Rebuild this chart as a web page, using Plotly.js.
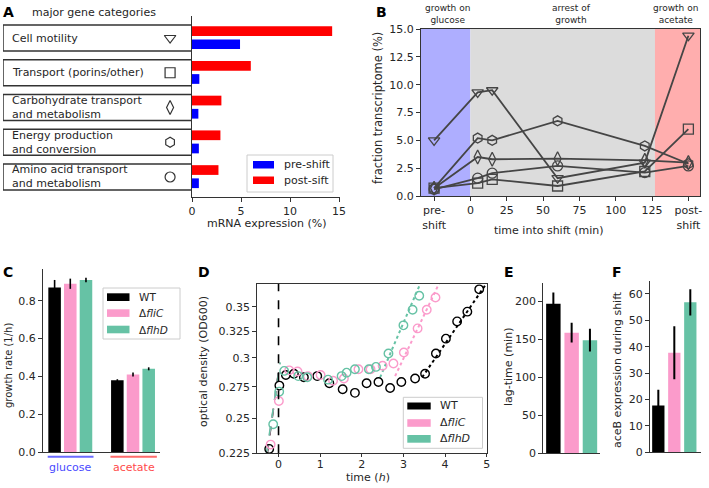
<!DOCTYPE html>
<html><head><meta charset="utf-8">
<script src="https://cdn.plot.ly/plotly-3.0.1.min.js"></script>
<style>html,body{margin:0;padding:0;background:#fff;}#chart{width:709px;height:488px;}</style>
</head><body><div id="chart"></div>
<script>
// ---------------- Panel A data ----------------
const categoriesA = ["Cell motility", "Transport (porins/other)", "Carbohydrate transport\nand metabolism", "Energy production\nand conversion", "Amino acid transport\nand metabolism"];
const symbolsA = ["triangle-down-open", "square-open", "diamond-tall-open", "hexagon-open", "circle-open"];
const preShiftA = [4.9, 0.75, 0.65, 0.7, 0.7];
const postShiftA = [14.3, 6.0, 3.0, 2.9, 2.7];
const legendNamesA = ["pre-shift", "post-sift"];
const xTicksA = [0, 5, 10, 15];

// ---------------- Panel B data ----------------
const headerTextsB = ["growth on\nglucose", "arrest of\ngrowth", "growth on\nacetate"];
const timeTicksB = [-25, 0, 25, 50, 75, 100, 125, 150];
const timeLabelsB = ["pre-\nshift", "0", "25", "50", "75", "100", "125", "post-\nshift"];
const timesB = [-25, 5, 15, 60, 120, 150];
const motilityB = [5.0, 9.3, 9.5, 1.6, 3.0, 14.4];
const transportB = [0.7, 1.15, 1.5, 0.9, 2.2, 6.0];
const carbohydrateB = [0.7, 3.5, 3.3, 3.35, 3.2, 3.0];
const energyB = [0.7, 5.2, 5.0, 6.75, 4.5, 2.9];
const aminoB = [0.6, 1.6, 2.05, 2.7, 2.1, 2.7];
const yTicksB = [0, 2.5, 5, 7.5, 10, 12.5, 15];

// ---------------- Panel C data ----------------
const strains = ["WT", "Δ<i>fliC</i>", "Δ<i>flhD</i>"];
const conditionsC = ["glucose", "acetate"];
const growthWT = [0.87, 0.38];
const growthWTErr = [0.04, 0.005];
const growthFliC = [0.89, 0.41];
const growthFliCErr = [0.027, 0.01];
const growthFlhD = [0.91, 0.44];
const growthFlhDErr = [0.012, 0.008];
const yTicksC = [0, 0.2, 0.4, 0.6, 0.8];

// ---------------- Panel D data ----------------
const timeWT = [-0.224, 0.02, 0.176, 0.369, 0.609, 0.93, 1.22, 1.54, 1.835, 2.115, 2.40, 2.68, 2.95, 3.28, 3.52, 3.78, 4.02, 4.29, 4.535, 4.82];
const odWT = [0.228, 0.276, 0.285, 0.286, 0.283, 0.284, 0.278, 0.273, 0.270, 0.278, 0.279, 0.274, 0.279, 0.282, 0.286, 0.304, 0.318, 0.335, 0.345, 0.369];
const timeFliC = [-0.19, 0.008, 0.256, 0.457, 0.705, 1.01, 1.31, 1.57, 1.92, 2.21, 2.50, 2.76, 3.01, 3.34, 3.56, 3.77];
const odFliC = [0.231, 0.2635, 0.289, 0.288, 0.284, 0.285, 0.280, 0.282, 0.290, 0.290, 0.293, 0.295, 0.305, 0.328, 0.347, 0.360];
const timeFlhD = [-0.128, 0.016, 0.136, 0.473, 0.69, 1.19, 1.515, 1.635, 1.835, 2.17, 2.34, 2.64, 3.0, 3.22, 3.38];
const odFlhD = [0.2456, 0.271, 0.2885, 0.284, 0.283, 0.281, 0.284, 0.287, 0.290, 0.290, 0.292, 0.304, 0.331, 0.347, 0.362];
// exponential fits (glucose phase, dashed) and (acetate phase, dotted)
const glcFitTimeWT = [-0.27, 0.02], glcFitOdWT = [0.225, 0.293];
const glcFitTimeFliC = [-0.28, 0.03], glcFitOdFliC = [0.225, 0.295];
const glcFitTimeFlhD = [-0.29, 0.04], glcFitOdFlhD = [0.225, 0.296];
const acFitTimeWT = [3.45, 5.0], acFitOdWT = [0.283, 0.376];
const acFitTimeFliC = [2.80, 3.86], acFitOdFliC = [0.284, 0.376];
const acFitTimeFlhD = [2.44, 3.41], acFitOdFlhD = [0.283, 0.376];
const xTicksD = [0, 1, 2, 3, 4, 5];
const yTicksD = [0.225, 0.25, 0.275, 0.3, 0.325, 0.35];
const yTickTextD = ["0.225", "0.25", "0.275", "0.3", "0.325", "0.35"];

// ---------------- Panel E / F data ----------------
const lagTime = [197, 159, 149];
const lagTimeErr = [15, 13, 15];
const yTicksE = [0, 50, 100, 150, 200];
const aceB = [17.7, 37.7, 56.8];
const aceBErr = [6, 10, 5];
const yTicksF = [0, 10, 20, 30, 40, 50, 60];

// ---------------- styling ----------------
const W = 709, H = 488;
const FONT = "DejaVu Sans, sans-serif";
const TXT = "#262626";
const strainColors = ["#000000", "#fb9bcb", "#66c2a5"];
const px = v => v / W;
const py = v => 1 - v / H;
const br = s => s.replace(/\n/g, "<br>");

const axBase = {
  showgrid: false, zeroline: false, showline: true, linecolor: "#333", linewidth: 1,
  ticks: "outside", ticklen: 4, tickwidth: 1, tickcolor: "#333",
  tickfont: { family: FONT, size: 11, color: TXT }, fixedrange: true
};
const ax = o => Object.assign({}, axBase, o);

function ann(text, x, y, o = {}) {
  const a = {
    text, x: px(x), y: py(y), xref: "paper", yref: "paper", showarrow: false,
    xanchor: "center", yanchor: "middle",
    font: { family: FONT, size: o.size || 11, color: o.color || TXT }
  };
  delete o.size; delete o.color;
  return Object.assign(a, o);
}
function prect(x0, y0, x1, y1, o = {}) {
  return Object.assign({ type: "rect", xref: "paper", yref: "paper", x0: px(x0), x1: px(x1), y0: py(y1), y1: py(y0) }, o);
}

const traces = [];
const shapes = [];
const annotations = [];

// ---------- Panel A ----------
const idxA = categoriesA.map((_, i) => i);
traces.push({ type: "bar", orientation: "h", x: postShiftA, y: idxA, xaxis: "x", yaxis: "y",
  marker: { color: "#ff0000" }, width: 0.28, offset: -0.34, name: legendNamesA[1], showlegend: false, hoverinfo: "skip" });
traces.push({ type: "bar", orientation: "h", x: preShiftA, y: idxA, xaxis: "x", yaxis: "y",
  marker: { color: "#0000ff" }, width: 0.28, offset: 0.04, name: legendNamesA[0], showlegend: false, hoverinfo: "skip" });
traces.push({ type: "scatter", mode: "markers", x: idxA.map(() => 0.884), y: idxA, xaxis: "x2", yaxis: "y",
  marker: { symbol: symbolsA, size: 10, color: "#333", line: { width: 1.2 } }, showlegend: false, hoverinfo: "skip" });
idxA.forEach(i => {
  shapes.push({ type: "rect", xref: "x2", yref: "y", x0: 0, x1: 1, y0: i - 0.374, y1: i + 0.374,
    line: { color: "#333", width: 1.5 }, fillcolor: "rgba(0,0,0,0)" });
  annotations.push({ text: br(categoriesA[i]), xref: "x2", yref: "y", x: 0.035, y: i, xanchor: "left", yanchor: "middle",
    align: "left", showarrow: false, font: { family: FONT, size: 11, color: TXT } });
});
annotations.push(ann("<b>A</b>", 8, 12, { size: 14, color: "#000" }));
annotations.push(ann("major gene categories", 30, 12, { xanchor: "left" }));
annotations.push(ann("mRNA expression (%)", 266, 223));
// legend A
shapes.push(prect(247, 155, 333, 192, { line: { color: "#cccccc", width: 1 }, fillcolor: "rgba(255,255,255,0.85)" }));
shapes.push(prect(253, 161, 274, 168.5, { line: { width: 0 }, fillcolor: "#0000ff" }));
shapes.push(prect(253, 176.5, 274, 184, { line: { width: 0 }, fillcolor: "#ff0000" }));
annotations.push(ann(legendNamesA[0], 282, 164.7, { xanchor: "left" }));
annotations.push(ann(legendNamesA[1], 282, 180.2, { xanchor: "left" }));

// ---------- Panel B ----------
const seriesB = [
  [motilityB, "triangle-down-open"], [transportB, "square-open"], [carbohydrateB, "diamond-tall-open"],
  [energyB, "hexagon-open"], [aminoB, "circle-open"]
];
seriesB.forEach(([vals, sym]) => traces.push({
  type: "scatter", mode: "lines+markers", x: timesB, y: vals, xaxis: "x3", yaxis: "y3",
  line: { color: "#454545", width: 1.8 }, marker: { symbol: sym, size: 10, color: "#454545", line: { width: 1.3 } },
  showlegend: false, hoverinfo: "skip"
}));
shapes.push({ type: "rect", xref: "x3", yref: "y3 domain", x0: -40, x1: 0, y0: 0, y1: 1, line: { width: 0 }, fillcolor: "#aeaeff", layer: "below" });
shapes.push({ type: "rect", xref: "x3", yref: "y3 domain", x0: 0, x1: 127, y0: 0, y1: 1, line: { width: 0 }, fillcolor: "#dcdcdc", layer: "below" });
shapes.push({ type: "rect", xref: "x3", yref: "y3 domain", x0: 127, x1: 170, y0: 0, y1: 1, line: { width: 0 }, fillcolor: "#ffaeae", layer: "below" });
annotations.push(ann("<b>B</b>", 381, 12, { size: 14, color: "#000" }));
annotations.push(ann(br(headerTextsB[0]), 447, 14, { size: 9 }));
annotations.push(ann(br(headerTextsB[1]), 571, 14, { size: 9 }));
annotations.push(ann(br(headerTextsB[2]), 675.5, 14, { size: 9 }));
annotations.push(ann("fraction transcriptome (%)", 378, 108, { textangle: -90, size: 11.5 }));
annotations.push(ann("time into shift (min)", 549, 230));

// ---------- Panel C ----------
const xC = conditionsC.map((_, i) => i);
[[growthWT, growthWTErr, -0.35], [growthFliC, growthFliCErr, -0.1], [growthFlhD, growthFlhDErr, 0.15]].forEach(([v, e, off], k) => {
  traces.push({ type: "bar", x: xC, y: v, xaxis: "x4", yaxis: "y4", width: 0.2, offset: off,
    marker: { color: strainColors[k] }, error_y: { type: "data", array: e, color: "#000", thickness: 1.6, width: 0 },
    showlegend: false, hoverinfo: "skip" });
});
shapes.push({ type: "line", xref: "x4", yref: "paper", x0: -0.36, x1: 0.37, y0: py(456.7), y1: py(456.7), line: { color: "#6a6aff", width: 2 } });
shapes.push({ type: "line", xref: "x4", yref: "paper", x0: 0.64, x1: 1.38, y0: py(456.7), y1: py(456.7), line: { color: "#ff6a6a", width: 2 } });
annotations.push({ text: conditionsC[0], xref: "x4", yref: "paper", x: 0.0, y: py(467), showarrow: false, xanchor: "center", yanchor: "middle", font: { family: FONT, size: 11, color: "#4a4aff" } });
annotations.push({ text: conditionsC[1], xref: "x4", yref: "paper", x: 1.02, y: py(467), showarrow: false, xanchor: "center", yanchor: "middle", font: { family: FONT, size: 11, color: "#ff4a4a" } });
annotations.push(ann("<b>C</b>", 8, 272, { size: 14, color: "#000" }));
annotations.push(ann("growth rate (1/h)", 8, 366, { textangle: -90, size: 10 }));
// legend C
shapes.push(prect(103, 288, 180, 339, { line: { color: "#cccccc", width: 1 }, fillcolor: "rgba(255,255,255,0.85)" }));
[[293.3, 301, 297], [309.3, 316.9, 313], [325.7, 333.3, 329.5]].forEach(([a, b, t], k) => {
  shapes.push(prect(107, a, 129.5, b, { line: { width: 0 }, fillcolor: strainColors[k] }));
  annotations.push(ann(strains[k], 137, t, { xanchor: "left", size: 10.5 }));
});

// ---------- Panel D ----------
const dSets = [[timeWT, odWT, glcFitTimeWT, glcFitOdWT, acFitTimeWT, acFitOdWT],
               [timeFliC, odFliC, glcFitTimeFliC, glcFitOdFliC, acFitTimeFliC, acFitOdFliC],
               [timeFlhD, odFlhD, glcFitTimeFlhD, glcFitOdFlhD, acFitTimeFlhD, acFitOdFlhD]];
dSets.forEach(([t, od, gt, go, at, ao], k) => {
  traces.push({ type: "scatter", mode: "lines", x: gt, y: go, xaxis: "x5", yaxis: "y5", line: { color: strainColors[k], width: 1.6, dash: "dash" }, showlegend: false, hoverinfo: "skip" });
  traces.push({ type: "scatter", mode: "lines", x: at, y: ao, xaxis: "x5", yaxis: "y5", line: { color: strainColors[k], width: 2, dash: "dot" }, showlegend: false, hoverinfo: "skip" });
});
dSets.forEach(([t, od], k) => {
  traces.push({ type: "scatter", mode: "markers", x: t, y: od, xaxis: "x5", yaxis: "y5",
    marker: { symbol: "circle-open", size: 8.5, color: strainColors[k], line: { width: 1.4 } }, showlegend: false, hoverinfo: "skip" });
});
shapes.push({ type: "line", xref: "x5", yref: "y5 domain", x0: 0, x1: 0, y0: 0, y1: 1, line: { color: "#000", width: 1.6, dash: "dash" } });
annotations.push(ann("<b>D</b>", 204, 272, { size: 14, color: "#000" }));
annotations.push(ann("optical density (OD600)", 203, 362, { textangle: -90 }));
annotations.push(ann("time (<i>h</i>)", 368, 477));
// legend D
shapes.push(prect(403.3, 397.3, 482.5, 448.3, { line: { color: "#cccccc", width: 1 }, fillcolor: "rgba(255,255,255,0.85)" }));
[[402.5, 409.5, 405.7], [419.2, 426.8, 422.3], [435, 442.7, 438.7]].forEach(([a, b, t], k) => {
  shapes.push(prect(407.3, a, 430.7, b, { line: { width: 0 }, fillcolor: strainColors[k] }));
  annotations.push(ann(strains[k], 438, t, { xanchor: "left" }));
});

// ---------- Panel E ----------
const xE = strains.map((_, i) => i);
traces.push({ type: "bar", x: xE, y: lagTime, xaxis: "x6", yaxis: "y6", width: 0.79, marker: { color: strainColors },
  error_y: { type: "data", array: lagTimeErr, color: "#000", thickness: 2, width: 0 }, showlegend: false, hoverinfo: "skip" });
annotations.push(ann("<b>E</b>", 509, 272, { size: 14, color: "#000" }));
annotations.push(ann("lag-time (min)", 508, 367, { textangle: -90 }));

// ---------- Panel F ----------
traces.push({ type: "bar", x: xE, y: aceB, xaxis: "x7", yaxis: "y7", width: 0.77, marker: { color: strainColors },
  error_y: { type: "data", array: aceBErr, color: "#000", thickness: 2, width: 0 }, showlegend: false, hoverinfo: "skip" });
annotations.push(ann("<b>F</b>", 617, 272, { size: 14, color: "#000" }));
annotations.push(ann("aceB expression during shift", 617, 370, { textangle: -90 }));

const layout = {
  width: W, height: H, margin: { l: 0, r: 0, t: 0, b: 0 }, paper_bgcolor: "#fff", plot_bgcolor: "rgba(0,0,0,0)",
  font: { family: FONT, size: 11, color: TXT }, showlegend: false, barmode: "overlay",
  // Panel A
  xaxis: ax({ domain: [px(192), px(340)], range: [0, 15.1], anchor: "y", tickvals: xTicksA }),
  yaxis: ax({ domain: [py(197), py(16)], range: [4.576, -0.633], anchor: "x", ticks: "", showticklabels: false }),
  xaxis2: { domain: [px(3), px(192)], range: [0, 1], anchor: "y", visible: false, fixedrange: true },
  // Panel B
  xaxis3: ax({ domain: [px(421), px(700)], range: [-34, 158], anchor: "y3", mirror: true, tickvals: timeTicksB, ticktext: timeLabelsB.map(br) }),
  yaxis3: ax({ domain: [py(196), py(29)], range: [0, 15], anchor: "x3", mirror: true, tickvals: yTicksB, tickformat: ".1f" }),
  // Panel C
  xaxis4: ax({ domain: [px(43), px(160)], range: [-0.435, 1.43], anchor: "y4", ticks: "", showticklabels: false }),
  yaxis4: ax({ domain: [py(452), py(269)], range: [0, 0.968], anchor: "x4", tickvals: yTicksC, tickformat: ".1f" }),
  // Panel D
  xaxis5: ax({ domain: [px(257.3), px(486.7)], range: [-0.51, 5.0], anchor: "y5", mirror: true, tickvals: xTicksD, ticklen: 3, ticklabelstandoff: -3 }),
  yaxis5: ax({ domain: [py(453.3), py(284)], type: "log", range: [Math.log10(0.225), Math.log10(0.375)], anchor: "x5", mirror: true, tickvals: yTicksD, ticktext: yTickTextD }),
  // Panel E
  xaxis6: ax({ domain: [px(543.3), px(600)], range: [-0.55, 2.55], anchor: "y6", ticks: "", showticklabels: false }),
  yaxis6: ax({ domain: [py(453.3), py(283.3)], range: [0, 224], anchor: "x6", tickvals: yTicksE }),
  // Panel F
  xaxis7: ax({ domain: [px(650), px(700.7)], range: [-0.52, 2.65], anchor: "y7", ticks: "", showticklabels: false }),
  yaxis7: ax({ domain: [py(452.3), py(280.7)], range: [0, 65], anchor: "x7", tickvals: yTicksF }),
  shapes, annotations
};

Plotly.newPlot("chart", traces, layout, { staticPlot: true, displayModeBar: false });
</script>
</body></html>
